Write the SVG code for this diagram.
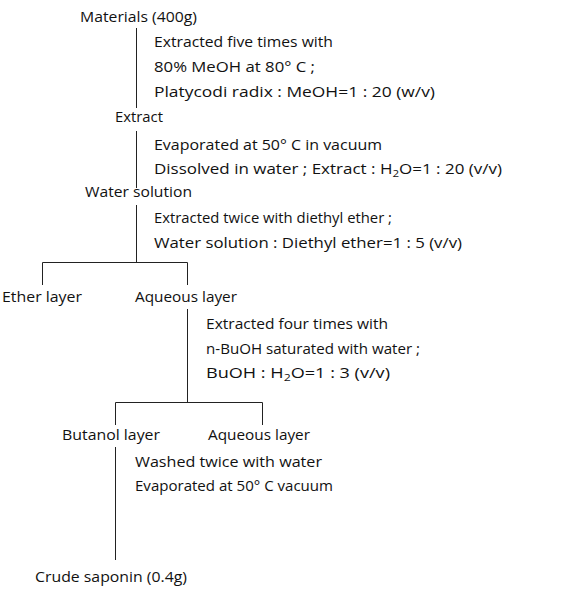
<svg xmlns="http://www.w3.org/2000/svg" width="567" height="593" viewBox="0 0 567 593">
<style>
text{font-family:"Open Sans","DejaVu Sans",sans-serif;font-size:14px;fill:#111}
.sub{font-size:9.5px}
.ln{stroke:#222;stroke-width:1;fill:none}
</style>
<rect width="567" height="593" fill="#fff"/>
<g id="connectors">
<path class="ln" d="M136.5 28V108"/>
<path class="ln" d="M136.5 131V188"/>
<path class="ln" d="M136.5 205V262.5"/>
<path class="ln" d="M42.5 285V262.5H187.5V285"/>
<path class="ln" d="M187.5 309V402.5"/>
<path class="ln" d="M115.5 425V402.5H262.5V425"/>
<path class="ln" d="M115.5 447V560"/>
</g>
<g id="materials"><text x="80" y="22" textLength="117" lengthAdjust="spacingAndGlyphs">Materials (400g)</text></g>
<g id="step1">
<text x="154" y="47" textLength="179" lengthAdjust="spacingAndGlyphs">Extracted five times with</text>
<text x="154" y="72" textLength="161" lengthAdjust="spacingAndGlyphs">80% MeOH at 80° C ;</text>
<text x="154" y="97" textLength="281" lengthAdjust="spacingAndGlyphs">Platycodi radix : MeOH=1 : 20 (w/v)</text>
</g>
<g id="extract"><text x="115" y="122" textLength="48" lengthAdjust="spacingAndGlyphs">Extract</text></g>
<g id="step2">
<text x="154" y="150" textLength="228" lengthAdjust="spacingAndGlyphs">Evaporated at 50° C in vacuum</text>
<text x="154" y="174" textLength="348" lengthAdjust="spacingAndGlyphs">Dissolved in water ; Extract : H<tspan class="sub" dy="3">2</tspan><tspan dy="-3">O=1 : 20 (v/v)</tspan></text>
</g>
<g id="water-solution"><text x="85" y="197" textLength="107" lengthAdjust="spacingAndGlyphs">Water solution</text></g>
<g id="step3">
<text x="154" y="223" textLength="238" lengthAdjust="spacingAndGlyphs">Extracted twice with diethyl ether ;</text>
<text x="154" y="248" textLength="308" lengthAdjust="spacingAndGlyphs">Water solution : Diethyl ether=1 : 5 (v/v)</text>
</g>
<g id="ether-layer"><text x="2" y="302" textLength="80" lengthAdjust="spacingAndGlyphs">Ether layer</text></g>
<g id="aqueous-layer-1"><text x="135" y="302" textLength="102" lengthAdjust="spacingAndGlyphs">Aqueous layer</text></g>
<g id="step4">
<text x="206" y="329" textLength="182" lengthAdjust="spacingAndGlyphs">Extracted four times with</text>
<text x="206" y="354" textLength="214" lengthAdjust="spacingAndGlyphs">n-BuOH saturated with water ;</text>
<text x="206" y="378" textLength="184" lengthAdjust="spacingAndGlyphs">BuOH : H<tspan class="sub" dy="3">2</tspan><tspan dy="-3">O=1 : 3 (v/v)</tspan></text>
</g>
<g id="butanol-layer"><text x="62" y="440" textLength="98" lengthAdjust="spacingAndGlyphs">Butanol layer</text></g>
<g id="aqueous-layer-2"><text x="208" y="440" textLength="102" lengthAdjust="spacingAndGlyphs">Aqueous layer</text></g>
<g id="step5">
<text x="135" y="467" textLength="187" lengthAdjust="spacingAndGlyphs">Washed twice with water</text>
<text x="135" y="491" textLength="198" lengthAdjust="spacingAndGlyphs">Evaporated at 50° C vacuum</text>
</g>
<g id="crude-saponin"><text x="35" y="582" textLength="152" lengthAdjust="spacingAndGlyphs">Crude saponin (0.4g)</text></g>
</svg>
